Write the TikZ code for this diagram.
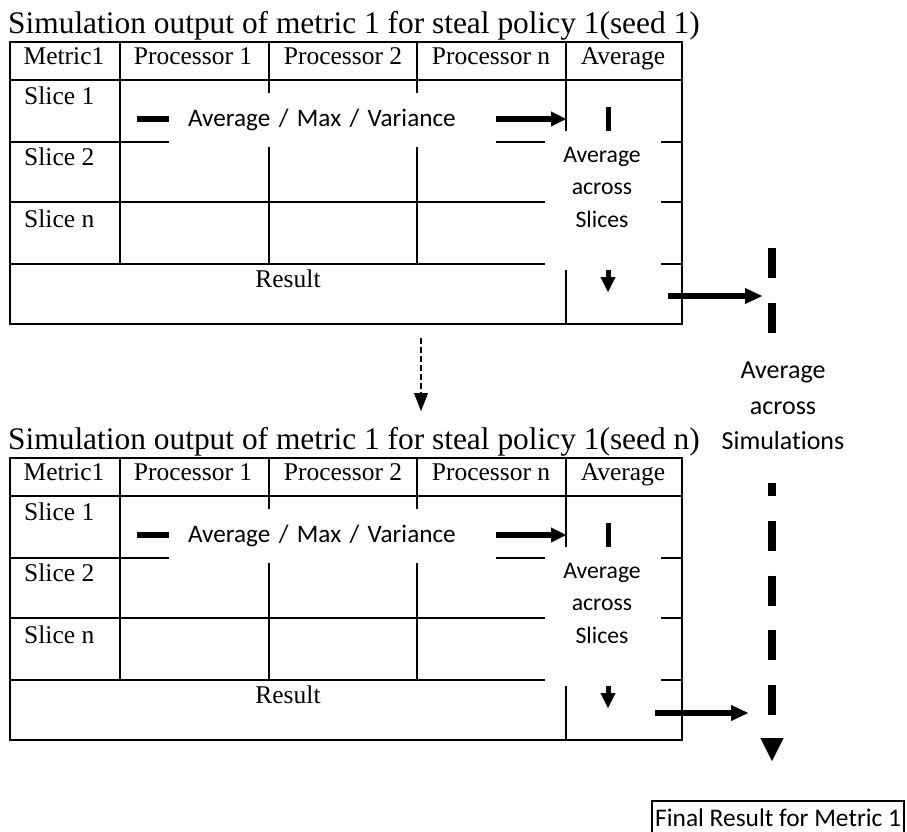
\documentclass[tikz,border=0pt]{standalone}
\usepackage{fontspec}
\setmainfont{Liberation Serif}
\newfontfamily\calib[Ligatures=NoCommon]{Carlito}
\usetikzlibrary{arrows.meta}

\tikzset{
  grid line/.style={line width=2pt, line cap=rect},
  cell text/.style={font=\fontsize{25.5}{30}\selectfont, inner sep=0pt},
  title text/.style={font=\fontsize{31.4}{36}\selectfont, inner sep=0pt, anchor=base west},
  mask/.style={fill=white, draw=none, inner sep=0pt},
  sans label/.style args={#1/#2}{font=\calib\fontsize{#1}{#2}\selectfont, inner sep=0pt, align=center},
  head/.style args={#1/#2}{-{Triangle[length=#1pt,width=#2pt,line width=0.3pt]}},
  flow arrow/.style={line width=5.5pt, head=15/15},
  down arrow/.style={line width=5pt, head=15/15},
  out arrow/.style={line width=6pt, head=17/16},
  seed arrow/.style={line width=2.5pt, dash pattern=on 6pt off 3pt, head=18/14},
  sim arrow/.style={line width=8pt, dash pattern=on 30pt off 24.6pt, head=23/23},
}

\begin{document}
\begin{tikzpicture}[x=1pt,y=-1pt]
\useasboundingbox (0,0) rectangle (907,831);
\fill[white] (0,0) rectangle (907,831);

% two identical result tables, one per seed
\foreach \t/\dy in {1/0, n/416} {
  \begin{scope}[shift={(0,\dy)}]
    \node[title text] (title\t) at (8,33.3)
      {Simulation output of metric 1 for steal policy 1(seed \t)};
    % table grid
    \draw[grid line] (10,42) rectangle (682,324);
    \foreach \y in {80,142,202,264} \draw[grid line] (10,\y) -- (682,\y);
    \foreach \x in {120,269,417} \draw[grid line] (\x,42) -- (\x,264);
    \draw[grid line] (566,42) -- (566,324);
    % header row
    \node[cell text, anchor=base] (hmet\t) at (64,64) {Metric1};
    \node[cell text, anchor=base] (hp1\t) at (193,64) {Processor 1};
    \node[cell text, anchor=base] (hp2\t) at (343,64) {Processor 2};
    \node[cell text, anchor=base] (hpn\t) at (491,64) {Processor n};
    \node[cell text, anchor=base] (havg\t) at (623,64) {Average};
    % row labels
    \node[cell text, anchor=base west] (s1\t) at (24,104) {Slice 1};
    \node[cell text, anchor=base west] (s2\t) at (24,165) {Slice 2};
    \node[cell text, anchor=base west] (sn\t) at (24,227) {Slice n};
    \node[cell text, anchor=base] (res\t) at (288,287) {Result};
    % aggregation arrows
    \coordinate (amvfrom\t) at (137,119);
    \coordinate (amvto\t) at (566,119);
    \draw[flow arrow] (amvfrom\t) -- (amvto\t);
    \coordinate (colfrom\t) at (608,107);
    \coordinate (colto\t) at (608,292);
    \draw[down arrow] (colfrom\t) -- (colto\t);
    % labels sitting on the arrows
    \node[mask, font=\calib\fontsize{25.2}{30}\selectfont, minimum width=327pt,
          minimum height=54pt, text width=289pt, inner xsep=19pt, align=left]
      (amv\t) at (332.5,120) {Average / Max / Variance};
    \node[mask, minimum width=116pt, minimum height=139pt] (slgap\t) at (603,200.5) {};
    \node[sans label=23.7/32.5] (sl\t) at (602,187) {Average\\across\\Slices};
  \end{scope}
}

% seed 1 ... seed n
\coordinate (seedfrom) at (421,338);
\coordinate (seedto) at (421,411);
\draw[seed arrow] (seedfrom) -- (seedto);

% averaging across simulations
\coordinate (simfrom) at (772,248);
\coordinate (simto) at (772,761);
\draw[sim arrow] (simfrom) -- (simto);
\node[mask, minimum width=135pt, minimum height=143pt] (simgap) at (782.5,411.5) {};
\node[sans label=26/35.5] (sim) at (783,406) {Average\\across\\Simulations};

\coordinate (out1from) at (668,296);
\coordinate (out1to) at (762,296);
\draw[out arrow] (out1from) -- (out1to);
\coordinate (outnfrom) at (655,713);
\coordinate (outnto) at (748,713);
\draw[out arrow] (outnfrom) -- (outnto);

% final result box, running off the lower edge
\node[anchor=base west, font=\calib\fontsize{25.4}{30}\selectfont,
      inner xsep=3pt, inner ysep=7pt] (final) at (652,826)
  {Final Result for Metric 1};
\draw[line width=2pt] (final.west |- 0,845) -- (final.north west)
  -- (final.north east) -- (final.east |- 0,845);
\end{tikzpicture}
\end{document}
